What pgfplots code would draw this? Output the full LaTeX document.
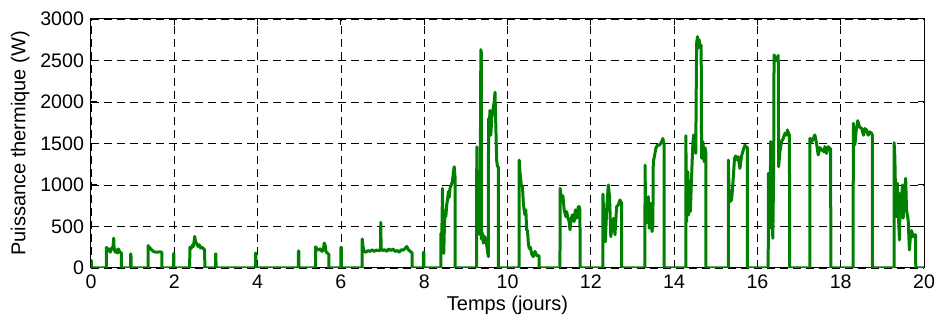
\documentclass[border=0pt]{standalone}
\usepackage{pgfplots}
\pgfplotsset{compat=1.18}
\usepackage{fontspec}
\setmainfont{Liberation Sans}
\definecolor{mgreen}{rgb}{0,0.5,0}
\begin{document}
\begin{tikzpicture}
\useasboundingbox (-45.5pt,-26pt) rectangle (423pt,134pt);
\begin{axis}[
  at={(0,0)}, anchor=south west,
  scale only axis, width=416.5pt, height=124.5pt,
  xmin=0, xmax=20, ymin=0, ymax=3000,
  xtick={0,2,...,20}, ytick={0,500,...,3000},
  grid=major,
  grid style={black, line width=0.4pt, dash pattern=on 4pt off 2.5pt},
  axis line style={black, line width=0.5pt},
  tick style={black, line width=0.5pt},
  tick align=inside, major tick length=3pt,
  xtick pos=both, ytick pos=both,
  scaled y ticks=false,
  /pgf/number format/1000 sep={},
  /pgf/number format/assume math mode=true,
  tick label style={font=\fontsize{9.8}{12}\selectfont},
  label style={font=\fontsize{10}{12}\selectfont},
  xlabel={Temps (jours)},
  ylabel={Puissance thermique (W)},
  xlabel style={at={(axis description cs:0.5,-0.15)}, anchor=center},
  ylabel style={at={(axis description cs:-0.085,0.5)}, anchor=center},
]
\addplot[mgreen, line width=1.5pt, line join=round, mark=none] coordinates {
(0,90)(0.01,90)(0.012,0)
(0.37,0)(0.372,250)(0.40,210)(0.43,230)(0.46,190)(0.50,240)(0.53,260)(0.545,360)(0.555,230)(0.58,190)(0.60,220)(0.62,200)(0.64,180)(0.66,230)(0.68,200)(0.70,190)(0.73,180)(0.732,0)
(0.95,0)(0.952,170)(0.96,170)(0.962,0)
(1.37,0)(1.372,270)(1.40,250)(1.45,220)(1.50,200)(1.55,190)(1.60,190)(1.65,195)(1.70,190)(1.702,0)
(1.98,0)(1.982,175)(1.99,175)(1.992,0)
(2.37,0)(2.372,250)(2.40,230)(2.44,280)(2.46,260)(2.49,380)(2.51,320)(2.54,290)(2.57,260)(2.60,280)(2.63,240)(2.67,250)(2.70,230)(2.73,220)(2.732,0)
(2.99,0)(2.992,170)(3.0,170)(3.002,0)
(3.95,0)(3.952,180)(3.96,180)(3.962,0)
(4.98,0)(4.982,205)(4.99,205)(4.992,0)
(5.39,0)(5.392,255)(5.43,230)(5.47,215)(5.50,230)(5.53,210)(5.55,200)(5.58,230)(5.60,300)(5.62,280)(5.64,200)(5.67,180)(5.70,170)(5.71,170)(5.712,0)
(6.0,0)(6.002,250)(6.01,250)(6.012,0)
(6.51,0)(6.512,350)(6.53,260)(6.56,200)(6.6,190)(6.65,210)(6.7,200)(6.75,220)(6.8,200)(6.85,215)(6.9,210)(6.95,215)(6.958,550)(6.966,230)(7.0,210)(7.05,220)(7.1,200)(7.15,230)(7.2,210)(7.25,230)(7.3,200)(7.35,210)(7.4,190)(7.45,220)(7.5,215)(7.55,240)(7.58,260)(7.62,220)(7.67,200)(7.71,180)(7.712,0)
(7.98,0)(7.982,190)(7.99,190)(7.992,0)
(8.40,0)(8.402,420)(8.42,300)(8.44,960)(8.45,500)(8.46,250)(8.47,177)(8.48,400)(8.50,680)(8.52,620)(8.54,760)(8.56,820)(8.58,920)(8.60,850)(8.62,960)(8.65,1000)(8.68,1050)(8.70,1150)(8.72,1220)(8.74,1100)(8.742,0)
(9.26,0)(9.262,1460)(9.28,560)(9.30,800)(9.32,450)(9.34,400)(9.36,2630)(9.37,2600)(9.375,350)(9.40,420)(9.42,300)(9.45,380)(9.48,320)(9.50,280)(9.52,200)(9.54,136)(9.545,1800)(9.56,1700)(9.58,1900)(9.60,1600)(9.62,1800)(9.65,1900)(9.68,2000)(9.70,2117)(9.72,1700)(9.74,1300)(9.76,1220)(9.78,1220)(9.782,0)
(10.28,0)(10.282,1300)(10.30,1150)(10.33,1000)(10.36,980)(10.38,780)(10.40,700)(10.42,640)(10.44,700)(10.46,460)(10.48,450)(10.50,300)(10.52,237)(10.55,250)(10.58,170)(10.62,137)(10.66,200)(10.70,150)(10.74,150)(10.76,140)(10.762,0)
(11.26,0)(11.262,960)(11.30,820)(11.33,870)(11.36,700)(11.40,620)(11.42,680)(11.45,600)(11.48,560)(11.50,460)(11.53,600)(11.56,640)(11.60,560)(11.63,700)(11.66,600)(11.70,740)(11.72,740)(11.74,700)(11.742,0)
(12.29,0)(12.292,890)(12.32,500)(12.35,317)(12.38,700)(12.42,1000)(12.45,860)(12.48,377)(12.51,510)(12.55,600)(12.58,400)(12.62,739)(12.66,760)(12.70,820)(12.72,800)(12.74,780)(12.742,0)
(13.30,0)(13.302,1240)(13.32,540)(13.35,700)(13.38,860)(13.40,480)(13.43,780)(13.45,600)(13.47,438)(13.49,500)(13.50,1280)(13.53,1350)(13.56,1440)(13.60,1480)(13.65,1480)(13.70,1520)(13.73,1560)(13.75,1500)(13.76,1500)(13.762,0)
(14.28,0)(14.282,1594)(14.30,558)(14.33,1160)(14.35,640)(14.37,980)(14.39,680)(14.42,1100)(14.45,1500)(14.47,1603)(14.50,1450)(14.52,1382)(14.54,2700)(14.56,2787)(14.58,2650)(14.60,2750)(14.62,2690)(14.65,2680)(14.66,1322)(14.69,1523)(14.72,1282)(14.74,1450)(14.76,1400)(14.762,0)
(15.30,0)(15.302,1300)(15.32,900)(15.34,800)(15.38,820)(15.41,1000)(15.45,1320)(15.48,1350)(15.52,1300)(15.54,1340)(15.58,1200)(15.62,1350)(15.66,1420)(15.70,1480)(15.72,1462)(15.76,1450)(15.762,0)
(16.26,0)(16.262,1140)(16.28,800)(16.30,478)(16.32,1522)(16.34,900)(16.37,358)(16.39,1200)(16.40,2567)(16.45,2500)(16.50,2560)(16.51,1221)(16.54,1400)(16.58,1522)(16.62,1560)(16.66,1623)(16.70,1600)(16.72,1663)(16.75,1620)(16.77,1600)(16.772,0)
(17.26,0)(17.262,1563)(17.30,1520)(17.34,1560)(17.38,1603)(17.42,1500)(17.46,1362)(17.50,1450)(17.55,1420)(17.60,1400)(17.62,1462)(17.66,1380)(17.70,1460)(17.74,1440)(17.76,1440)(17.762,0)
(18.30,0)(18.302,1743)(18.34,1482)(18.37,1650)(18.41,1775)(18.45,1700)(18.50,1683)(18.55,1600)(18.58,1680)(18.62,1663)(18.66,1600)(18.70,1640)(18.74,1623)(18.76,1600)(18.762,0)
(19.28,0)(19.282,1510)(19.30,1340)(19.32,800)(19.34,618)(19.36,1020)(19.38,700)(19.41,337)(19.43,900)(19.46,650)(19.48,1000)(19.50,600)(19.53,900)(19.56,1080)(19.58,700)(19.62,580)(19.65,217)(19.68,420)(19.70,450)(19.74,377)(19.78,400)(19.80,400)(19.802,0)(20,0)
};
\end{axis}
\end{tikzpicture}
\end{document}
